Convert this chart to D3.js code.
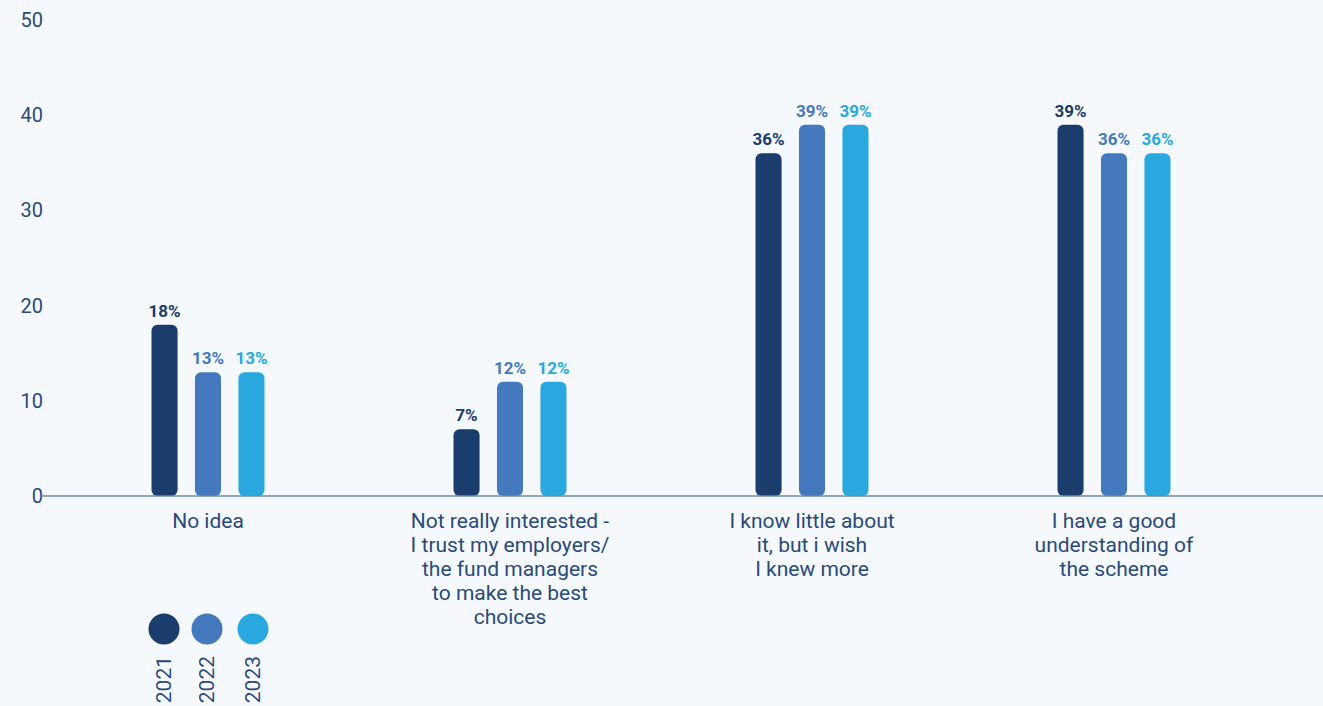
<!DOCTYPE html>
<html>
<head>
<meta charset="utf-8">
<script src="https://cdn.jsdelivr.net/npm/d3@7"></script>
<style>
  html, body { margin: 0; padding: 0; background: #f5f9fd; }
  svg { display: block; font-family: Roboto, "Open Sans", sans-serif; }
</style>
</head>
<body>
<svg id="chart" width="1323" height="706"></svg>
<script>
// Survey answers, one group per category
const categories = [
  ["No idea"],
  ["Not really interested -", "I trust my employers/", "the fund managers", "to make the best", "choices"],
  ["I know little about", "it, but i wish", "I knew more"],
  ["I have a good", "understanding of", "the scheme"]
];
const years = ["2021", "2022", "2023"];
const values2021 = [18, 7, 36, 39];
const values2022 = [13, 12, 39, 36];
const values2023 = [13, 12, 39, 36];
const yTicks = [0, 10, 20, 30, 40, 50];
const colors = ["#1b3d6e", "#4479bd", "#29a8e0"];

const seriesValues = [values2021, values2022, values2023];
const svg = d3.select("#chart");

const x = d3.scaleBand()
  .domain(d3.range(categories.length))
  .range([57, 1265]);

const groupWidth = 113;
const xInner = d3.scaleBand()
  .domain(d3.range(years.length))
  .range([0, groupWidth])
  .paddingInner(0.4);

const y = d3.scaleLinear().domain([0, 50]).range([496, 20]);

// y tick labels
svg.append("g").selectAll("text")
  .data(yTicks)
  .join("text")
  .attr("x", 43)
  .attr("y", d => y(d))
  .attr("dy", "0.35em")
  .attr("text-anchor", "end")
  .attr("font-size", 20)
  .attr("fill", "#2a4a7a")
  .text(d => d);

// bars
const groups = svg.append("g").selectAll("g")
  .data(categories.map((c, i) => i))
  .join("g")
  .attr("transform", i => `translate(${x(i) + x.bandwidth() / 2 - groupWidth / 2},0)`);

groups.each(function(ci) {
  const g = d3.select(this);
  years.forEach((yr, si) => {
    const v = seriesValues[si][ci];
    g.append("rect")
      .attr("x", xInner(si))
      .attr("y", y(v))
      .attr("width", xInner.bandwidth())
      .attr("height", y(0) - y(v))
      .attr("rx", 6)
      .attr("fill", colors[si]);
    g.append("text")
      .attr("x", xInner(si) + xInner.bandwidth() / 2)
      .attr("y", y(v) - 8)
      .attr("text-anchor", "middle")
      .attr("font-size", 17)
      .attr("font-weight", "bold")
      .attr("fill", colors[si])
      .text(v + "%");
  });
});

// baseline
svg.append("line")
  .attr("x1", 40).attr("x2", 1323)
  .attr("y1", y(0)).attr("y2", y(0))
  .attr("stroke", "#6f86aa")
  .attr("stroke-width", 1.5);

// category labels
const catLabels = svg.append("g").selectAll("text")
  .data(categories)
  .join("text")
  .attr("x", (d, i) => x(i) + x.bandwidth() / 2)
  .attr("y", 528)
  .attr("text-anchor", "middle")
  .attr("font-size", 21)
  .attr("fill", "#2a4a7a");
catLabels.each(function(lines) {
  d3.select(this).selectAll("tspan")
    .data(lines)
    .join("tspan")
    .attr("x", d3.select(this).attr("x"))
    .attr("dy", (d, k) => k === 0 ? 0 : 24)
    .text(d => d);
});

// legend
const legendX = [164, 207, 253];
const legend = svg.append("g").selectAll("g")
  .data(years)
  .join("g")
  .attr("transform", (d, i) => `translate(${legendX[i]},0)`);
legend.append("circle")
  .attr("cy", 629)
  .attr("r", 15.5)
  .attr("fill", (d, i) => colors[i]);
legend.append("text")
  .attr("transform", "translate(0,656) rotate(-90)")
  .attr("text-anchor", "end")
  .attr("dy", "0.35em")
  .attr("font-size", 21)
  .attr("fill", "#2a4a7a")
  .text(d => d);
</script>
</body>
</html>
